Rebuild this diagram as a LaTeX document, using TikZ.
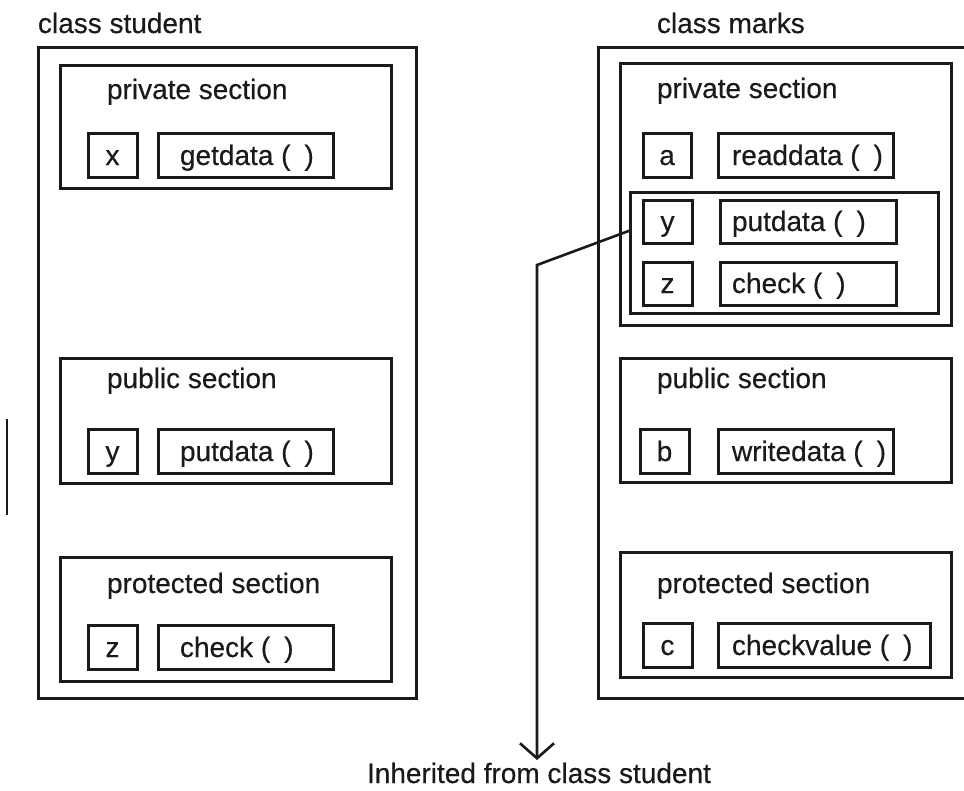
\documentclass[tikz,border=0pt]{standalone}
\usepackage{fontspec}
\setmainfont[FakeBold=0.4]{Liberation Sans}
\usetikzlibrary{arrows.meta}
\definecolor{ink}{HTML}{1A1A1A}
\tikzset{
  bx/.style={draw=ink, line width=3pt, inner sep=0pt, outer sep=0pt},
  lbl/.style={inner sep=0pt, outer sep=0pt, text=ink, font=\fontsize{28}{30}\selectfont},
  conn/.style={draw=ink, line width=2.6pt},
}
% name, x1, y1, x2, y2
\newcommand{\plainbox}[5]{%
  \pgfmathsetmacro\bw{#4-#2}\pgfmathsetmacro\bh{#5-#3}%
  \node[bx, minimum width=\bw pt, minimum height=\bh pt, anchor=north west] (#1) at (#2pt,-#3pt) {};}
% name, x1, y1, x2, y2, text (centred)
\newcommand{\varbox}[6]{%
  \plainbox{#1}{#2}{#3}{#4}{#5}%
  \node[lbl, anchor=base] (#1-t) at ([yshift=12pt]#1.south) {#6};}
% name, x1, y1, x2, y2, left pad, text
\newcommand{\fnbox}[7]{%
  \plainbox{#1}{#2}{#3}{#4}{#5}%
  \node[lbl, anchor=base west] (#1-t) at ([xshift=#6pt, yshift=12pt]#1.south west) {#7};}
\begin{document}
\begin{tikzpicture}
\useasboundingbox (0,0) rectangle (964pt,-790pt);
% ---------- class student ----------
\node[lbl, anchor=base west] (tS) at (38pt,-33pt) {class student};
\plainbox{outerL}{38}{47}{416}{698}
\plainbox{privL}{60}{65}{391}{188}
\node[lbl, anchor=base west] (privLt) at (107pt,-99pt) {private section};
\varbox{xL}{88}{133}{137}{177}{x}
\fnbox{getL}{158}{133}{333}{177}{22}{getdata (\hspace{0.5em})}
\plainbox{pubL}{60}{358}{391}{483}
\node[lbl, anchor=base west] (pubLt) at (107pt,-388pt) {public section};
\varbox{yL}{88}{429}{137}{473}{y}
\fnbox{putL}{158}{429}{333}{473}{22}{putdata (\hspace{0.5em})}
\plainbox{protL}{60}{557}{391}{681}
\node[lbl, anchor=base west] (protLt) at (107pt,-593pt) {protected section};
\varbox{zL}{88}{625}{137}{669}{z}
\fnbox{chkL}{158}{625}{333}{669}{22}{check (\hspace{0.5em})}
% stray mark
\draw[draw=ink, line width=2pt] (7pt,-419pt) -- (7pt,-515pt);
% ---------- class marks ----------
\node[lbl, anchor=base west] (tM) at (657pt,-33pt) {class marks};
\draw[draw=ink, line width=3pt] (966pt,-47pt) -- (598pt,-47pt) -- (598pt,-698pt) -- (966pt,-698pt);
\plainbox{privR}{620}{63}{951}{325}
\node[lbl, anchor=base west] (privRt) at (657pt,-98pt) {private section};
\varbox{aR}{643}{133}{691}{177}{a}
\fnbox{readR}{718}{133}{893}{177}{14}{readdata (\hspace{0.5em})}
\plainbox{inh}{630}{192}{938}{313}
\varbox{yR}{643}{200}{692}{243}{y}
\fnbox{putR}{720}{200}{896}{243}{12}{putdata (\hspace{0.5em})}
\varbox{zR}{643}{262}{692}{305}{z}
\fnbox{chkR}{720}{262}{896}{305}{12}{check (\hspace{0.5em})}
\plainbox{pubR}{620}{358}{951}{482}
\node[lbl, anchor=base west] (pubRt) at (657pt,-388pt) {public section};
\varbox{bR}{640}{429}{689}{473}{b}
\fnbox{writeR}{718}{429}{893}{473}{14}{writedata (\hspace{0.5em})}
\plainbox{protR}{620}{552}{951}{677}
\node[lbl, anchor=base west] (protRt) at (657pt,-593pt) {protected section};
\varbox{cR}{643}{623}{692}{667}{c}
\fnbox{cvR}{718}{623}{930}{667}{14}{checkvalue (\hspace{0.5em})}
% ---------- inheritance note ----------
\node[lbl, anchor=base west] (note) at (367pt,-783pt) {Inherited from class student};
\coordinate (start) at ([yshift=22pt]inh.west);
\coordinate (bend) at (537pt,-265pt);
\coordinate (tip) at (537pt,-760pt);
\draw[conn, -{Straight Barb[length=15pt,width=34pt]}] (start) -- (bend) -- (tip);
\end{tikzpicture}
\end{document}
